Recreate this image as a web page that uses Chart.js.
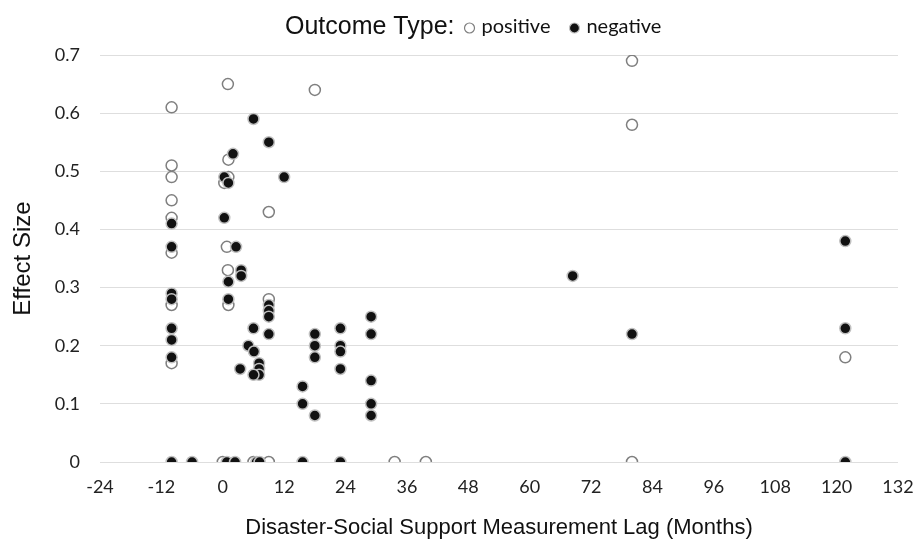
<!DOCTYPE html>
<html>
<head>
<meta charset="utf-8">
<script src="https://cdn.jsdelivr.net/npm/chart.js@4.4.1/dist/chart.umd.min.js"></script>
<style>
  html, body { margin: 0; padding: 0; background: #fff; }
  #wrap { width: 915px; height: 545px; }
</style>
</head>
<body>
<div id="wrap"><canvas id="chart" width="915" height="545"></canvas></div>
<script>
// tick labels
const xTicks = [-24, -12, 0, 12, 24, 36, 48, 60, 72, 84, 96, 108, 120, 132];
const yTicks = [0, 0.1, 0.2, 0.3, 0.4, 0.5, 0.6, 0.7];

// positive outcomes (open circles)
const positiveLag = [-10, -10, -10, -10, -10, -10, -10, -10,
  1, 1.1, 1.1, 0.3, 0.8, 1, 1.1, 9, 9, 18,
  0, 6, 9, 33.6, 39.7, 80, 80, 80, 121.7];
const positiveEffect = [0.61, 0.51, 0.49, 0.45, 0.42, 0.36, 0.27, 0.17,
  0.65, 0.52, 0.49, 0.48, 0.37, 0.33, 0.27, 0.43, 0.28, 0.64,
  0, 0, 0, 0, 0, 0.69, 0.58, 0, 0.18];

// negative outcomes (filled circles)
const negativeLag = [-10, -10, -10, -10, -10, -10, -10, -10, -6,
  2, 0.3, 1.1, 0.3, 2.6, 3.6, 3.6, 1.1, 1.1,
  6, 9, 12, 9, 9, 9, 9,
  6, 5, 6.1, 3.4, 7.1, 7.1, 7.1, 6,
  15.6, 15.6, 18, 18, 18, 18,
  23, 23, 23, 23, 23,
  29, 29, 29, 29, 29,
  68.4, 80, 121.7, 121.7, 121.7,
  0.8, 2.4, 6.6, 7.2, 15.6];
const negativeEffect = [0.41, 0.37, 0.29, 0.28, 0.23, 0.21, 0.18, 0, 0,
  0.53, 0.49, 0.48, 0.42, 0.37, 0.33, 0.32, 0.31, 0.28,
  0.59, 0.55, 0.49, 0.27, 0.26, 0.25, 0.22,
  0.23, 0.2, 0.19, 0.16, 0.17, 0.16, 0.15, 0.15,
  0.13, 0.1, 0.22, 0.2, 0.18, 0.08,
  0.23, 0.2, 0.19, 0.16, 0,
  0.25, 0.22, 0.14, 0.1, 0.08,
  0.32, 0.22, 0.38, 0.23, 0,
  0, 0, 0, 0, 0];

const toPoints = (xs, ys) => xs.map((x, i) => ({ x: x, y: ys[i] }));

const titleFamily = '"Liberation Sans", Arial, sans-serif';
const tickFont = { family: 'Lato, "Open Sans", sans-serif', size: 18 };

// legend drawn inline with its "Outcome Type:" caption
const outcomeLegend = {
  id: 'outcomeLegend',
  afterDraw(chart) {
    const ctx = chart.ctx;
    const y = 27;
    ctx.save();
    ctx.textBaseline = 'middle';
    ctx.fillStyle = '#111';
    ctx.font = '25px ' + titleFamily;
    let x = 285;
    ctx.fillText('Outcome Type:', x, y);
    x += ctx.measureText('Outcome Type:').width + 15;
    ctx.font = '20px Lato, sans-serif';
    chart.data.datasets.forEach(ds => {
      ctx.beginPath();
      ctx.arc(x, y + 1, 5, 0, Math.PI * 2);
      ctx.fillStyle = ds.backgroundColor;
      ctx.fill();
      ctx.lineWidth = 1.2;
      ctx.strokeStyle = ds.borderColor;
      ctx.stroke();
      ctx.fillStyle = '#111';
      ctx.fillText(ds.label, x + 12, y);
      x += 12 + ctx.measureText(ds.label).width + 24;
    });
    ctx.restore();
  }
};

new Chart(document.getElementById('chart'), {
  type: 'scatter',
  data: {
    datasets: [
      {
        label: 'positive',
        data: toPoints(positiveLag, positiveEffect),
        backgroundColor: '#ffffff',
        borderColor: '#7f7f7f',
        borderWidth: 1.5,
        pointRadius: 5.5,
        order: 1
      },
      {
        label: 'negative',
        data: toPoints(negativeLag, negativeEffect),
        backgroundColor: '#111111',
        borderColor: '#c0c0c0',
        borderWidth: 1.5,
        pointRadius: 5.5,
        order: 0
      }
    ]
  },
  options: {
    responsive: false,
    animation: false,
    layout: { padding: { top: 55, right: 17, left: 0, bottom: 0 } },
    plugins: {
      legend: { display: false },
      tooltip: { enabled: false }
    },
    scales: {
      x: {
        type: 'linear',
        min: -24,
        max: 132,
        afterBuildTicks: s => { s.ticks = xTicks.map(v => ({ value: v })); },
        afterFit: s => { s.height = 83; s.paddingLeft = 0; s.paddingRight = 0; },
        grid: { display: false },
        border: { display: false },
        ticks: { font: tickFont, color: '#222', padding: 6, maxRotation: 0 },
        title: {
          display: true,
          text: 'Disaster-Social Support Measurement Lag (Months)',
          font: { family: titleFamily, size: 22 },
          color: '#111',
          padding: { top: 0, bottom: 4 }
        }
      },
      y: {
        min: 0,
        max: 0.7,
        afterBuildTicks: s => { s.ticks = yTicks.map(v => ({ value: v })); },
        afterFit: s => { s.width = 100; },
        grid: { color: '#dedede', lineWidth: 1, drawTicks: false },
        border: { display: false },
        ticks: { font: tickFont, color: '#222', padding: 20 },
        title: {
          display: true,
          text: 'Effect Size',
          font: { family: titleFamily, size: 24 },
          color: '#111',
          padding: { top: 9, bottom: 0 }
        }
      }
    }
  },
  plugins: [outcomeLegend]
});
</script>
</body>
</html>
